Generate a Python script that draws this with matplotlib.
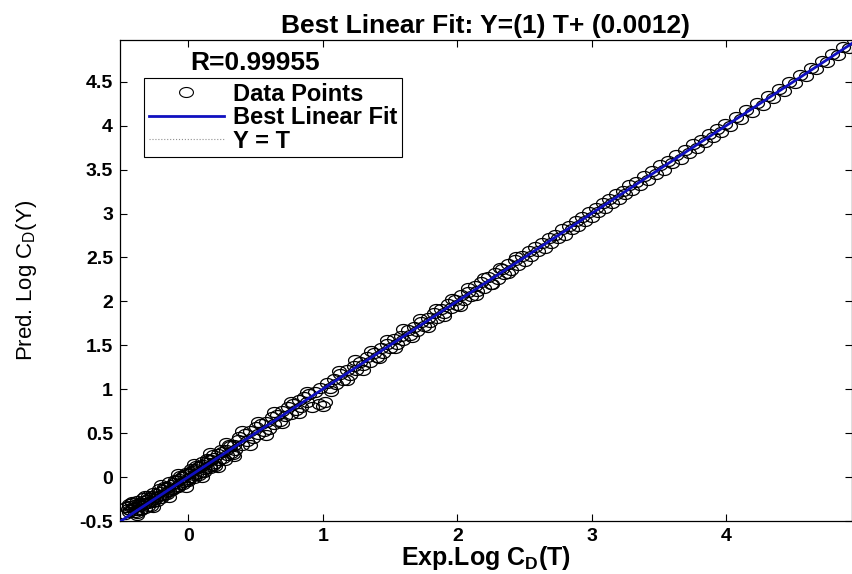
import numpy as np
import matplotlib
matplotlib.use('Agg')
import matplotlib.pyplot as plt
from matplotlib.path import Path
from matplotlib.lines import Line2D

exp_low = [-0.47, -0.45, -0.44, -0.43, -0.42, -0.41, -0.40, -0.40, -0.39, -0.38,
           -0.37, -0.36, -0.35, -0.35, -0.34, -0.33, -0.32, -0.31, -0.30, -0.30,
           -0.29, -0.28, -0.27, -0.26, -0.25, -0.24, -0.23, -0.22, -0.21, -0.20,
           -0.19, -0.18, -0.17, -0.16, -0.15, -0.14, -0.13, -0.12, -0.11, -0.10,
           -0.09, -0.08, -0.07, -0.06, -0.05, -0.04, -0.03, -0.02, -0.01, 0.00,
           0.01, 0.02, 0.03, 0.04, 0.05, 0.06, 0.07, 0.08, 0.09, 0.10,
           0.11, 0.12, 0.13, 0.14, 0.15, 0.16, 0.17, 0.18, 0.19, 0.20,
           0.22, 0.23, 0.25, 0.26, 0.28, 0.29, 0.31, 0.32, 0.34, 0.35]
pred_low = [-0.42, -0.36, -0.33, -0.38, -0.30, -0.35, -0.32, -0.40, -0.37, -0.43,
            -0.29, -0.33, -0.36, -0.38, -0.27, -0.31, -0.35, -0.26, -0.30, -0.33,
            -0.24, -0.33, -0.22, -0.28, -0.25, -0.19, -0.27, -0.21, -0.17, -0.24,
            -0.15, -0.20, -0.13, -0.19, -0.11, -0.16, -0.09, -0.15, -0.07, -0.12,
            -0.05, -0.10, -0.02, -0.08, 0.00, -0.06, 0.02, -0.04, 0.04, -0.02,
            0.06, 0.00, 0.07, 0.02, 0.09, 0.03, 0.11, 0.05, 0.13, 0.06,
            0.14, 0.09, 0.16, 0.10, 0.19, 0.13, 0.20, 0.14, 0.22, 0.16,
            0.26, 0.19, 0.29, 0.22, 0.31, 0.25, 0.35, 0.27, 0.37, 0.31]

exp_dense = [-0.46, -0.44, -0.42, -0.40, -0.38, -0.36, -0.34, -0.32, -0.30, -0.28,
             -0.26, -0.24, -0.22, -0.20, -0.18, -0.16, -0.14, -0.12, -0.10, -0.08,
             -0.06, -0.04, -0.02, 0.00, 0.02, 0.04, 0.06, 0.08, 0.10, 0.12,
             0.14, 0.16, 0.18, 0.20, 0.24, 0.27, 0.30, 0.33]
pred_dense = [-0.34, -0.40, -0.28, -0.34, -0.27, -0.31, -0.24, -0.29, -0.21, -0.27,
              -0.18, -0.23, -0.14, -0.20, -0.11, -0.17, -0.06, -0.14, -0.03, -0.11,
              0.01, -0.08, 0.05, -0.05, 0.09, -0.01, 0.13, 0.02, 0.17, 0.06,
              0.21, 0.10, 0.25, 0.13, 0.31, 0.20, 0.37, 0.26]

exp_mid = [0.37, 0.38, 0.40, 0.42, 0.44, 0.46, 0.48, 0.50, 0.52, 0.54,
           0.56, 0.58, 0.60, 0.62, 0.64, 0.66, 0.68, 0.70, 0.72, 0.74,
           0.76, 0.78, 0.80, 0.82, 0.84, 0.86, 0.88, 0.90, 0.92, 0.94,
           0.97, 0.98, 1.00, 1.02, 1.03, 1.05, 1.08, 1.10, 1.13, 1.15,
           1.18, 1.20, 1.23, 1.25, 1.28, 1.30, 1.33, 1.35, 1.38, 1.40,
           1.43, 1.45, 1.48, 1.50, 1.53, 1.55, 1.58, 1.60, 1.63, 1.65,
           1.68, 1.70, 1.73, 1.75, 1.78, 1.80, 1.83, 1.85, 1.88, 1.90,
           1.93, 1.95, 1.98, 2.00, 2.03, 2.05, 2.08, 2.10, 2.13, 2.15,
           2.18, 2.20, 2.23, 2.25, 2.28, 2.30, 2.33, 2.35, 2.38, 2.40,
           2.43, 2.45, 2.48, 2.50]
pred_mid = [0.42, 0.46, 0.36, 0.49, 0.41, 0.53, 0.44, 0.57, 0.49, 0.60,
            0.52, 0.63, 0.55, 0.68, 0.60, 0.71, 0.64, 0.75, 0.69, 0.80,
            0.72, 0.83, 0.76, 0.88, 0.80, 0.91, 0.85, 0.94, 0.80, 0.97,
            0.83, 1.01, 0.81, 0.86, 1.07, 1.01, 1.12, 1.06, 1.17, 1.11,
            1.22, 1.16, 1.26, 1.22, 1.31, 1.27, 1.37, 1.31, 1.41, 1.37,
            1.47, 1.41, 1.51, 1.47, 1.57, 1.52, 1.61, 1.56, 1.67, 1.62,
            1.71, 1.66, 1.77, 1.72, 1.81, 1.77, 1.87, 1.81, 1.91, 1.87,
            1.97, 1.92, 2.01, 1.96, 2.07, 2.01, 2.11, 2.06, 2.17, 2.12,
            2.22, 2.15, 2.28, 2.20, 2.32, 2.26, 2.37, 2.31, 2.42, 2.36,
            2.47, 2.41, 2.52, 2.46]

exp_spread = [-0.44, -0.38, -0.32, -0.26, -0.20, -0.14, -0.08, -0.02, 0.04, 0.10,
              0.16, 0.22, 0.28, 0.34, 0.40, 0.46, 0.52, 0.58, 0.64, 0.70,
              0.76, 0.82, 0.88, 1.06, 1.12, 1.18, 1.24, 1.30, 1.36, 1.42,
              1.48, 1.54, 1.60, 1.66, 1.72, 1.78, 1.84, 1.90, 1.96, 2.02,
              2.08, 2.14, 2.20, 2.26, 2.32, 2.38, 2.44]
pred_spread = [-0.31, -0.41, -0.21, -0.34, -0.09, -0.23, 0.03, -0.11, 0.15, 0.00,
               0.27, 0.12, 0.39, 0.24, 0.52, 0.36, 0.63, 0.48, 0.74, 0.61,
               0.86, 0.73, 0.97, 0.98, 1.21, 1.10, 1.33, 1.22, 1.44, 1.35,
               1.56, 1.47, 1.68, 1.59, 1.80, 1.71, 1.91, 1.83, 2.03, 1.95,
               2.15, 2.07, 2.27, 2.20, 2.38, 2.32, 2.50]

exp_high = [2.53, 2.55, 2.58, 2.60, 2.63, 2.65, 2.68, 2.70, 2.73, 2.75,
            2.78, 2.80, 2.83, 2.85, 2.88, 2.90, 2.93, 2.95, 2.98, 3.00,
            3.03, 3.05, 3.08, 3.10, 3.13, 3.15, 3.18, 3.20, 3.23, 3.25,
            3.28, 3.30, 3.33, 3.36, 3.39, 3.42, 3.45, 3.48, 3.51, 3.54,
            3.57, 3.60, 3.63, 3.66, 3.69, 3.72, 3.75, 3.78, 3.81, 3.84,
            3.87, 3.90, 3.93, 3.96, 3.99, 4.03, 4.07, 4.11, 4.15, 4.19,
            4.23, 4.27, 4.31, 4.35, 4.39, 4.43, 4.47, 4.51, 4.55, 4.59,
            4.63, 4.67, 4.71, 4.75, 4.79, 4.83, 4.87, 4.91, 4.95]
pred_high = [2.57, 2.52, 2.62, 2.57, 2.66, 2.61, 2.72, 2.66, 2.76, 2.72,
             2.82, 2.76, 2.86, 2.82, 2.92, 2.86, 2.96, 2.92, 3.02, 2.96,
             3.06, 3.02, 3.12, 3.06, 3.16, 3.12, 3.22, 3.17, 3.26, 3.22,
             3.32, 3.27, 3.36, 3.33, 3.43, 3.38, 3.48, 3.45, 3.55, 3.50,
             3.60, 3.57, 3.67, 3.62, 3.72, 3.69, 3.79, 3.74, 3.84, 3.81,
             3.90, 3.87, 3.96, 3.93, 4.02, 4.00, 4.10, 4.08, 4.18, 4.16,
             4.26, 4.24, 4.34, 4.32, 4.42, 4.40, 4.50, 4.48, 4.58, 4.56,
             4.66, 4.64, 4.74, 4.72, 4.82, 4.80, 4.90, 4.88, 4.97]

fit_slope = 1.0
fit_intercept = 0.0012
r_value = 0.99955
x_ticks = [0, 1, 2, 3, 4]
y_ticks = [-0.5, 0, 0.5, 1, 1.5, 2, 2.5, 3, 3.5, 4, 4.5]

plt.rcParams['font.family'] = ['Liberation Sans', 'DejaVu Sans']
plt.rcParams['mathtext.fontset'] = 'custom'
plt.rcParams['mathtext.rm'] = 'Liberation Sans'
plt.rcParams['mathtext.bf'] = 'Liberation Sans:bold'

exp_all = np.array(exp_low + exp_dense + exp_mid + exp_spread + exp_high)
pred_all = np.array(pred_low + pred_dense + pred_mid + pred_spread + pred_high)

# circles in the source are squashed vertically
t = np.linspace(0, 2 * np.pi, 40)
ellipse = Path(np.column_stack([np.cos(t), 0.72 * np.sin(t)]), closed=True)

fig = plt.figure(figsize=(8.53, 5.74), dpi=100)
ax = fig.add_axes([120 / 853, 1 - 521 / 574, 732 / 853, 481 / 574])

xmin, xmax = -0.508, 4.935
ymin, ymax = -0.5, 4.975
line_x = np.array([xmin, xmax])

ax.plot(line_x, line_x, color='#909090', lw=0.8, linestyle=':', zorder=1)
ax.plot(exp_all, pred_all, linestyle='none', marker=ellipse, markersize=10,
        markerfacecolor='none', markeredgecolor='black', markeredgewidth=0.9,
        zorder=2)
ax.plot(line_x, fit_slope * line_x + fit_intercept, color='#1010c0', lw=2,
        zorder=3)

ax.set_xlim(xmin, xmax)
ax.set_ylim(ymin, ymax)
ax.set_xticks(x_ticks)
ax.set_xticklabels([str(v) for v in x_ticks])
ax.set_yticks(y_ticks)
ax.set_yticklabels(['%g' % v for v in y_ticks])
ax.tick_params(direction='in', length=5, width=0.8, top=True, right=True,
               labelsize=14, pad=5)
for lab in ax.get_xticklabels() + ax.get_yticklabels():
    lab.set_fontweight('bold')
for sp in ax.spines.values():
    sp.set_linewidth(0.9)

ax.set_title('Best Linear Fit: Y=(%g) T+ (%g)' % (fit_slope, fit_intercept),
             fontsize=19, fontweight='bold', pad=5)
ax.set_xlabel('Exp.Log C$_\\mathbf{D}$(T)', fontsize=18, fontweight='bold',
              labelpad=-1)
ax.set_ylabel('Pred. Log C$_\\mathrm{D}$(Y)', fontsize=16)
ax.yaxis.set_label_coords(-0.11, 0.5)

fig.text(190 / 853, 1 - 63 / 574, 'R=%g' % r_value, fontsize=19,
         fontweight='bold', va='center', ha='left')

handles = [
    Line2D([], [], linestyle='none', marker=ellipse, markersize=10,
           markerfacecolor='none', markeredgecolor='black', markeredgewidth=0.8),
    Line2D([], [], color='#1010c0', lw=2),
    Line2D([], [], color='#909090', lw=0.8, linestyle=':'),
]
leg = ax.legend(handles, ['Data Points', 'Best Linear Fit', 'Y = T'],
                loc='upper left', bbox_to_anchor=(144 / 853, 1 - 78 / 574),
                bbox_transform=fig.transFigure, borderaxespad=0,
                prop={'weight': 'bold', 'size': 17}, fancybox=False,
                framealpha=1, edgecolor='black', handlelength=3.2,
                handletextpad=0.35, labelspacing=0.02, borderpad=0.2)
leg.get_frame().set_linewidth(0.8)

fig.savefig('out.png', dpi=100)
